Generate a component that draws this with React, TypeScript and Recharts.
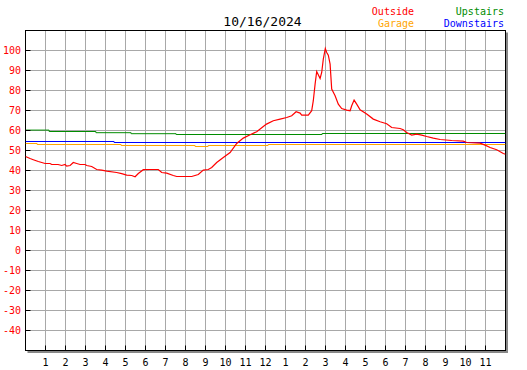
import React from "react";
import { LineChart, Line, XAxis, YAxis, CartesianGrid, ReferenceArea } from "recharts";

const title = "10/16/2024";
const xTickHours = [1, 2, 3, 4, 5, 6, 7, 8, 9, 10, 11, 12, 13, 14, 15, 16, 17, 18, 19, 20, 21, 22, 23];
const xTickLabels = ["1", "2", "3", "4", "5", "6", "7", "8", "9", "10", "11", "12", "1", "2", "3", "4", "5", "6", "7", "8", "9", "10", "11"];
const yTicks = [-40, -30, -20, -10, 0, 10, 20, 30, 40, 50, 60, 70, 80, 90, 100];

const outsideHours = [0, 0.23, 0.39, 0.64, 0.98, 1.23, 1.31, 1.63, 1.81, 1.98, 2.06, 2.23, 2.39, 2.56, 2.73, 2.98, 3.06, 3.31, 3.56, 3.81, 4.06, 4.56, 4.81, 5.06, 5.31, 5.48, 5.64, 5.89, 6.23, 6.64, 6.81, 7.06, 7.39, 7.56, 8.31, 8.64, 8.89, 9.14, 9.31, 9.56, 9.89, 10.23, 10.56, 10.89, 11.23, 11.56, 11.89, 12.05, 12.39, 12.73, 13.06, 13.31, 13.53, 13.73, 13.81, 14.14, 14.31, 14.39, 14.48, 14.56, 14.73, 14.81, 14.89, 14.99, 15.06, 15.14, 15.23, 15.31, 15.48, 15.64, 15.81, 16.06, 16.23, 16.31, 16.43, 16.56, 16.73, 17.06, 17.39, 17.73, 18.06, 18.31, 18.73, 18.89, 19.06, 19.31, 19.56, 19.81, 20.06, 20.39, 20.73, 21.31, 21.89, 22.06, 22.73, 22.98, 23.23, 23.56, 23.89, 24];
const outsideTemps = [47.0, 46.0, 45.4, 44.5, 43.5, 43.5, 43.0, 43.0, 42.5, 43.0, 42.2, 42.5, 44.0, 43.5, 43.0, 43.0, 42.5, 42.0, 40.5, 40.2, 39.7, 39.0, 38.4, 37.7, 37.5, 36.9, 38.5, 40.4, 40.5, 40.5, 39.0, 38.7, 37.5, 37.0, 37.0, 38.0, 40.2, 40.5, 41.5, 44.0, 46.5, 49.0, 53.5, 56.2, 57.9, 59.4, 62.0, 63.2, 64.9, 65.7, 66.5, 67.4, 69.4, 68.7, 67.7, 67.7, 69.9, 74.9, 83.2, 89.5, 86.0, 89.0, 95.7, 101.0, 99.0, 97.7, 93.2, 80.7, 77.4, 73.2, 71.0, 70.2, 69.9, 72.4, 75.2, 73.2, 70.4, 68.2, 65.7, 64.4, 63.4, 61.5, 61.0, 60.4, 59.0, 57.7, 58.2, 57.7, 57.0, 56.2, 55.5, 55.0, 54.7, 54.0, 53.7, 52.7, 51.5, 50.4, 48.5, 48.1];

const upstairsHours = [0, 1.18, 3.52, 5.28, 7.53, 14.83, 24];
const upstairsTemps = [60.2, 59.5, 58.9, 58.4, 58.0, 58.5, 58.5];

const downstairsHours = [0, 4.43, 24];
const downstairsTemps = [54.5, 54.0, 54.0];

const garageHours = [0, 0.58, 4.78, 8.48, 9.13, 12.13, 24];
const garageTemps = [53.5, 53.0, 52.5, 52.0, 52.5, 53.0, 53.0];

const toRows = (hours: number[], temps: number[]) => hours.map((h, i) => ({ h, v: temps[i] }));
const outsideData = toRows(outsideHours, outsideTemps);
const upstairsData = toRows(upstairsHours, upstairsTemps);
const downstairsData = toRows(downstairsHours, downstairsTemps);
const garageData = toRows(garageHours, garageTemps);

const FONT = "'DejaVu Sans Mono', monospace";
const RED = "#ff0000";
const GREEN = "#008c00";
const BLUE = "#0000ff";
const ORANGE = "#ffa500";

const YTick = (props: any) => {
  const { x, y, payload } = props;
  return (
    <g>
      <line x1={x} x2={x + 5} y1={y} y2={y} stroke="#000" strokeWidth={1} />
      <text x={x - 4.5} y={y + 3.5} textAnchor="end" fill={RED} fontSize={10} fontFamily={FONT}>
        {payload.value}
      </text>
    </g>
  );
};

const XTick = (props: any) => {
  const { x, y, payload } = props;
  const idx = xTickHours.indexOf(payload.value);
  return (
    <g>
      <line x1={x} x2={x} y1={y} y2={y - 5} stroke="#000" strokeWidth={1} />
      <text x={x} y={y + 15} textAnchor="middle" fill="#000" fontSize={10} fontFamily={FONT}>
        {idx >= 0 ? xTickLabels[idx] : payload.value}
      </text>
    </g>
  );
};

const BoxShape = (props: any) => {
  const { x, y, width, height } = props;
  return (
    <g>
      <path
        d={`M${x + width + 1.5},${y + 2} V${y + height + 1.5} H${x + 2}`}
        stroke="#888"
        strokeWidth={2}
        fill="none"
      />
      <rect x={x} y={y} width={width} height={height} fill="none" stroke="#000" strokeWidth={1} />
    </g>
  );
};

export default function App() {
  return (
    <div style={{ position: "absolute", left: 0, top: 0, width: 527, height: 370, background: "#fff" }}>
      <LineChart width={527} height={370} margin={{ top: 30.5, right: 21.5, bottom: 0, left: 0 }}>
        <CartesianGrid stroke="#a8a8a8" strokeWidth={1} />
        <XAxis
          type="number"
          dataKey="h"
          domain={[0, 24]}
          ticks={xTickHours}
          allowDataOverflow
          height={19.5}
          axisLine={false}
          tickLine={false}
          tickSize={0}
          tickMargin={0}
          tick={<XTick />}
          interval={0}
        />
        <YAxis
          type="number"
          dataKey="v"
          domain={[-50, 110]}
          ticks={yTicks}
          allowDataOverflow
          width={25.5}
          axisLine={false}
          tickLine={false}
          tickSize={0}
          tickMargin={0}
          tick={<YTick />}
          interval={0}
        />
        <ReferenceArea x1={0} x2={24} y1={-50} y2={110} shape={<BoxShape />} />
        <Line data={garageData} dataKey="v" type="stepAfter" stroke={ORANGE} strokeWidth={1} dot={false} isAnimationActive={false} />
        <Line data={downstairsData} dataKey="v" type="stepAfter" stroke={BLUE} strokeWidth={1} dot={false} isAnimationActive={false} />
        <Line data={upstairsData} dataKey="v" type="stepAfter" stroke={GREEN} strokeWidth={1} dot={false} isAnimationActive={false} />
        <Line data={outsideData} dataKey="v" type="linear" stroke={RED} strokeWidth={1.2} dot={false} isAnimationActive={false} />
      </LineChart>
      <svg width={527} height={40} style={{ position: "absolute", left: 0, top: 0, pointerEvents: "none" }}>
        <text x={262.5} y={26} textAnchor="middle" fontSize={13} fontFamily={FONT} fill="#000">{title}</text>
        <text x={414} y={15} textAnchor="end" fontSize={10} fontFamily={FONT} fill={RED}>Outside</text>
        <text x={414} y={27} textAnchor="end" fontSize={10} fontFamily={FONT} fill={ORANGE}>Garage</text>
        <text x={504} y={15} textAnchor="end" fontSize={10} fontFamily={FONT} fill={GREEN}>Upstairs</text>
        <text x={504} y={27} textAnchor="end" fontSize={10} fontFamily={FONT} fill={BLUE}>Downstairs</text>
      </svg>
    </div>
  );
}
